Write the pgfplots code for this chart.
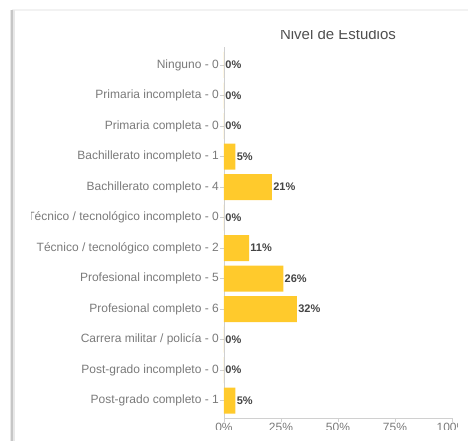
\documentclass[border=0pt]{standalone}
\usepackage{pgfplots}
\pgfplotsset{compat=1.18}
\usepackage{fontspec}
\setmainfont{Liberation Sans}

\definecolor{barYellow}{HTML}{FFCA2C}
\definecolor{labelGray}{HTML}{7A7A7A}
\definecolor{valueGray}{HTML}{444444}
\definecolor{titleGray}{HTML}{505050}
\definecolor{axisGray}{HTML}{D0D0D0}

% counts: Ninguno ... Post-grado completo (19 answers); shares rounded as labelled
\pgfplotstableread{
y share
11 0
10 0
9  0
8  5
7  21
6  0
5  11
4  26
3  32
2  0
1  0
0  5
}\estudios

\begin{document}
\begin{tikzpicture}[x=1pt,y=1pt]
\path[use as bounding box] (0,0) rectangle (469,441);
% card frame
\fill[gray!10] (12,430.3) rectangle (468,431.5);
\fill[gray!18] (9.5,0) rectangle (14.5,431);
\fill[gray!45] (11,0) rectangle (13,431);
\begin{scope}
\clip (31,11.5) rectangle (457,410.5);
\begin{axis}[
  at={(224pt,23pt)}, anchor=south west,
  scale only axis, width=228pt, height=371pt,
  xbar, bar width=26pt,
  xmin=0, xmax=100, ymin=-0.567, ymax=11.59,
  axis x line*=bottom, axis y line*=left,
  axis line style={axisGray, line width=0.8pt, -},
  xtick={0,25,50,75,100},
  xticklabels={0\%,25\%,50\%,75\%,100\%},
  ytick={0,...,11},
  yticklabels={
    Post-grado completo - 1,
    Post-grado incompleto - 0,
    Carrera militar / policía - 0,
    Profesional completo - 6,
    Profesional incompleto - 5,
    Técnico / tecnológico completo - 2,
    Técnico / tecnológico incompleto - 0,
    Bachillerato completo - 4,
    Bachillerato incompleto - 1,
    Primaria completa - 0,
    Primaria incompleta - 0,
    Ninguno - 0},
  tick align=outside, major tick length=4pt,
  tick style={axisGray, line width=0.7pt},
  yticklabel style={font=\fontsize{12}{14}\selectfont, text=labelGray, inner xsep=1pt},
  xticklabel style={font=\fontsize{12}{14}\selectfont, text=labelGray, inner ysep=1pt},
  /pgf/number format/assume math mode=true,
  point meta=x,
  nodes near coords={\pgfmathprintnumber{\pgfplotspointmeta}\%},
  nodes near coords style={anchor=west, inner xsep=1.2pt,
    font=\bfseries\fontsize{11}{13}\selectfont, text=valueGray},
  clip=false,
]
\addplot[fill=barYellow, draw=none, bar shift=0pt] table[x=share, y=y] {\estudios};
\end{axis}
\node[anchor=base, inner sep=0pt, font=\fontsize{15}{17}\selectfont, text=titleGray]
  at (338,401.5) {Nivel de Estudios};
\end{scope}
\end{tikzpicture}
\end{document}
